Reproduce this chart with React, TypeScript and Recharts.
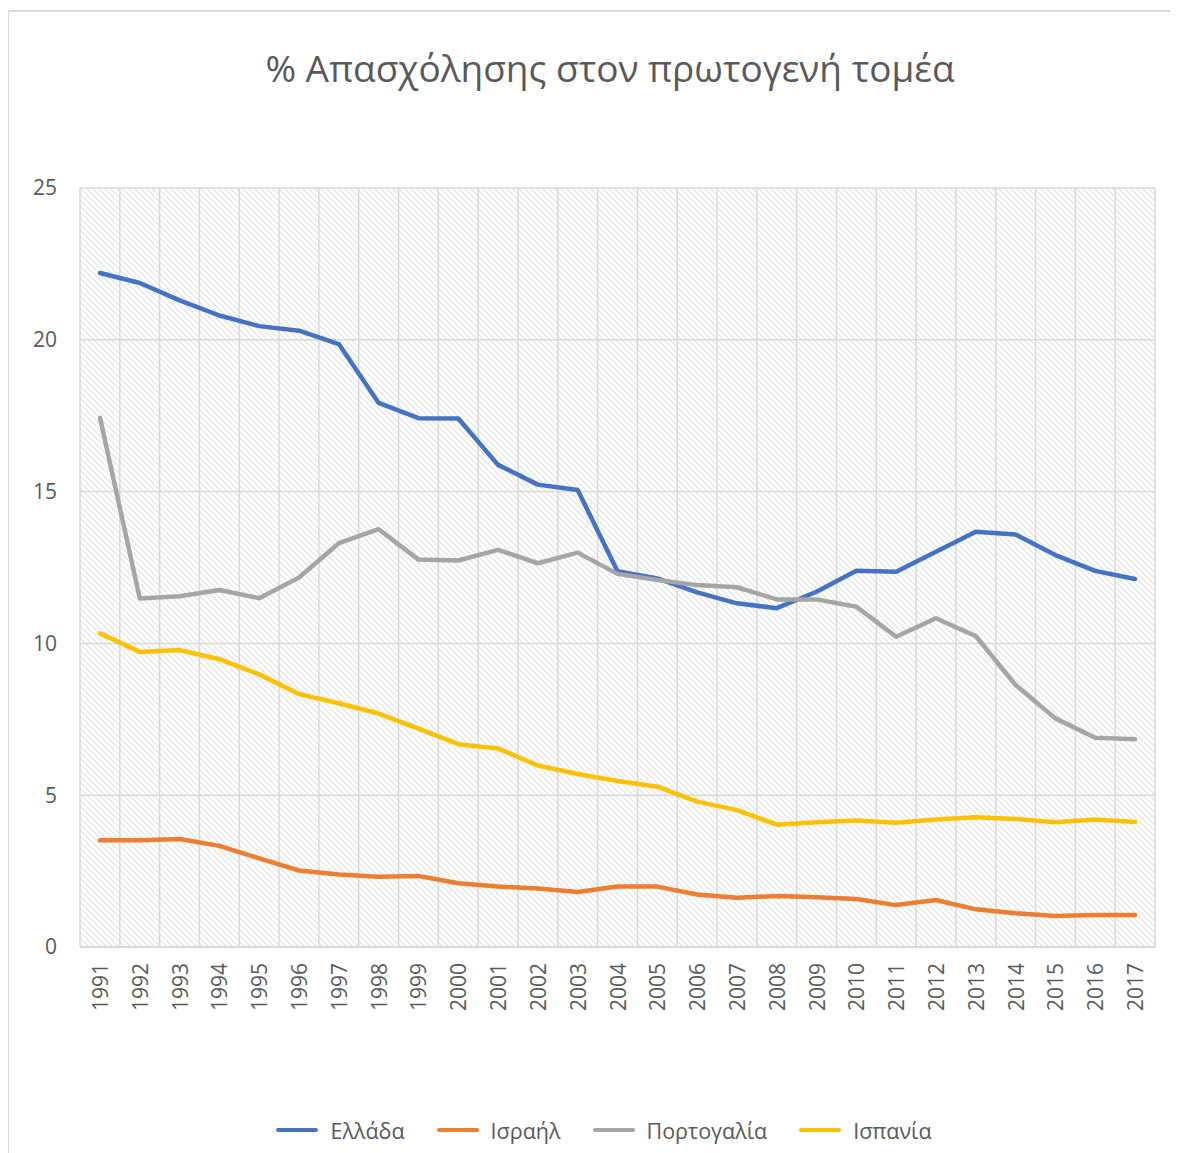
import React from "react";
import { LineChart, Line, XAxis, YAxis, CartesianGrid, Legend } from "recharts";

const YEARS = [
  "1991", "1992", "1993", "1994", "1995", "1996", "1997", "1998", "1999",
  "2000", "2001", "2002", "2003", "2004", "2005", "2006", "2007", "2008",
  "2009", "2010", "2011", "2012", "2013", "2014", "2015", "2016", "2017"
];

const GREECE = [
  22.2, 21.87, 21.3, 20.8, 20.45, 20.3, 19.86, 17.92, 17.42, 17.41, 15.88,
  15.23, 15.05, 12.38, 12.14, 11.68, 11.32, 11.16, 11.7, 12.39, 12.36, 13.02,
  13.68, 13.59, 12.91, 12.39, 12.12
];

const ISRAEL = [
  3.52, 3.52, 3.56, 3.33, 2.92, 2.52, 2.39, 2.31, 2.34, 2.1, 1.99, 1.93, 1.81,
  1.99, 1.99, 1.73, 1.62, 1.68, 1.64, 1.58, 1.38, 1.55, 1.24, 1.11, 1.02,
  1.05, 1.05
];

const PORTUGAL = [
  17.43, 11.48, 11.55, 11.76, 11.49, 12.17, 13.3, 13.76, 12.76, 12.73, 13.08,
  12.64, 12.99, 12.29, 12.09, 11.92, 11.85, 11.45, 11.45, 11.21, 10.22, 10.83,
  10.24, 8.63, 7.53, 6.89, 6.84
];

const SPAIN = [
  10.33, 9.72, 9.78, 9.48, 8.98, 8.33, 8.03, 7.69, 7.19, 6.68, 6.54, 5.98,
  5.7, 5.47, 5.28, 4.79, 4.51, 4.03, 4.11, 4.17, 4.09, 4.2, 4.27, 4.22, 4.11,
  4.2, 4.12
];

const Y_TICKS = [0, 5, 10, 15, 20, 25];

const SERIES = [
  { key: "greece", name: "Ελλάδα", color: "#4472C4" },
  { key: "israel", name: "Ισραήλ", color: "#ED7D31" },
  { key: "portugal", name: "Πορτογαλία", color: "#A5A5A5" },
  { key: "spain", name: "Ισπανία", color: "#FFC000" }
];

const data = YEARS.map((year, i) => ({
  year,
  greece: GREECE[i],
  israel: ISRAEL[i],
  portugal: PORTUGAL[i],
  spain: SPAIN[i]
}));

const FONT = "'Open Sans', sans-serif";
const TEXT = "#595959";
const GRID = "#d9d9d9";

const YearTick = ({ x, y, payload }: any) => (
  <text
    x={x}
    y={y}
    transform={`rotate(-90 ${x} ${y})`}
    textAnchor="end"
    dominantBaseline="central"
    fill={TEXT}
    fontSize={21}
    fontFamily={FONT}
  >
    {payload.value}
  </text>
);

const LegendContent = () => (
  <div
    style={{
      display: "flex",
      justifyContent: "center",
      alignItems: "center",
      height: 30,
      paddingLeft: 22,
      fontFamily: FONT,
      fontSize: 21.5,
      color: TEXT
    }}
  >
    {SERIES.map((s) => (
      <div key={s.key} style={{ display: "flex", alignItems: "center", margin: "0 16px" }}>
        <div style={{ width: 42, height: 4, borderRadius: 2, background: s.color, marginRight: 12 }} />
        <span>{s.name}</span>
      </div>
    ))}
  </div>
);

export default function App() {
  return (
    <div style={{ position: "relative", width: 1170, height: 1145 }}>
      <div
        style={{
          position: "absolute",
          left: -1,
          top: 2,
          width: 1171,
          height: 1143,
          borderLeft: `2px solid ${GRID}`,
          borderTop: `2px solid ${GRID}`,
          boxSizing: "border-box"
        }}
      />
      <div
        style={{
          position: "absolute",
          top: 34,
          left: 0,
          width: 1204,
          textAlign: "center",
          fontFamily: FONT,
          fontSize: 37,
          color: TEXT
        }}
      >
        % Απασχόλησης στον πρωτογενή τομέα
      </div>
      <LineChart
        width={1170}
        height={1145}
        data={data}
        margin={{ top: 180, right: 23, left: 12, bottom: 106 }}
      >
        <defs>
          <pattern id="hatch" width="6" height="6" patternUnits="userSpaceOnUse">
            <path d="M-1,-1 L7,7 M-1,5 L1,7 M5,-1 L7,1" stroke="#e2e2e2" strokeWidth="1.2" />
          </pattern>
        </defs>
        <CartesianGrid
          stroke={GRID}
          strokeWidth={1.5}
          fill="url(#hatch)"
          fillOpacity={1}
          verticalCoordinatesGenerator={({ offset }: any) =>
            YEARS.map((_, i) => offset.left + (i * offset.width) / YEARS.length).concat(
              offset.left + offset.width
            )
          }
        />
        <XAxis
          dataKey="year"
          height={70}
          interval={0}
          padding={{ left: 20, right: 20 }}
          tickLine={false}
          tickSize={0}
          tickMargin={16}
          axisLine={{ stroke: GRID, strokeWidth: 2 }}
          tick={<YearTick />}
        />
        <YAxis
          width={60}
          domain={[0, 25]}
          ticks={Y_TICKS}
          axisLine={false}
          tickLine={false}
          tickSize={0}
          tickMargin={23}
          tick={{ fill: TEXT, fontSize: 21, fontFamily: FONT }}
        />
        <Legend
          content={<LegendContent />}
          wrapperStyle={{ position: "absolute", top: 1107, left: 0, width: 1170 }}
        />
        {SERIES.map((s) => (
          <Line
            key={s.key}
            dataKey={s.key}
            name={s.name}
            type="linear"
            stroke={s.color}
            strokeWidth={4.5}
            strokeLinecap="round"
            strokeLinejoin="round"
            dot={false}
            isAnimationActive={false}
          />
        ))}
      </LineChart>
    </div>
  );
}
